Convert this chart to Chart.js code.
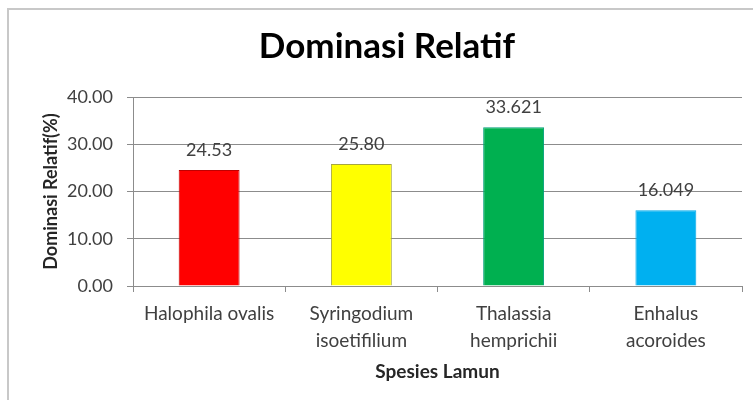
<!DOCTYPE html>
<html>
<head>
<meta charset="utf-8">
<script src="https://cdn.jsdelivr.net/npm/chart.js@4/dist/chart.umd.min.js"></script>
<style>
  html, body { margin: 0; padding: 0; background: #ffffff; }
  #wrap { position: relative; width: 753px; height: 401px; }
</style>
</head>
<body>
<div id="wrap"><canvas id="c" width="753" height="401"></canvas></div>
<script>
const categories = [["Halophila ovalis"], ["Syringodium", "isoetifilium"], ["Thalassia", "hemprichii"], ["Enhalus", "acoroides"]];
const values = [24.53, 25.80, 33.621, 16.049];
const valueLabels = ["24.53", "25.80", "33.621", "16.049"];
const barColors = ["#FF0000", "#FFFF00", "#00B050", "#00B0F0"];
const barBorders = ["#C00000", "#A6A640", "#00A07A", "#00A8E8"];
const yTicks = [0, 10, 20, 30, 40];

const FONT = "Lato, 'Open Sans', 'Liberation Sans', sans-serif";

const frame = {
  id: 'frame',
  beforeDraw(chart) {
    const ctx = chart.ctx;
    ctx.save();
    ctx.fillStyle = '#ffffff';
    ctx.fillRect(0, 0, chart.width, chart.height);
    ctx.strokeStyle = '#C8C8C8';
    ctx.lineWidth = 2;
    ctx.beginPath();
    ctx.moveTo(8, 400);
    ctx.lineTo(8, 9);
    ctx.lineTo(760, 9);
    ctx.stroke();
    ctx.restore();
  }
};

// The original chart frame extends past the right edge, so its title sits right of the canvas centre.
const titleShift = {
  id: 'titleShift',
  afterLayout(chart) {
    const t = chart.titleBlock;
    if (t) { t.left += 12; t.right += 12; }
  }
};

const valueLabelPlugin = {
  id: 'valueLabels',
  afterDatasetsDraw(chart) {
    const ctx = chart.ctx;
    const meta = chart.getDatasetMeta(0);
    ctx.save();
    ctx.font = "18px " + FONT;
    ctx.fillStyle = '#404040';
    ctx.textAlign = 'center';
    ctx.textBaseline = 'middle';
    meta.data.forEach((bar, i) => {
      ctx.fillText(valueLabels[i], bar.x, bar.y - 20);
    });
    ctx.restore();
  }
};

new Chart(document.getElementById('c'), {
  type: 'bar',
  data: {
    labels: categories,
    datasets: [{
      data: values,
      backgroundColor: barColors,
      borderColor: barBorders,
      borderWidth: 1,
      categoryPercentage: 1.0,
      barPercentage: 0.4
    }]
  },
  options: {
    responsive: false,
    animation: false,
    devicePixelRatio: 1,
    layout: { padding: { left: 8, right: 11, top: 0, bottom: 8 } },
    plugins: {
      legend: { display: false },
      tooltip: { enabled: false },
      title: {
        display: true,
        text: 'Dominasi Relatif',
        color: '#000000',
        font: { family: FONT, size: 35, weight: 'bold' },
        padding: { top: 26, bottom: 29 }
      }
    },
    scales: {
      x: {
        grid: { display: true, drawOnChartArea: false, drawTicks: true, tickLength: 6, color: '#8C8C8C', offset: true },
        border: { display: true, color: '#8C8C8C', width: 1 },
        ticks: {
          color: '#404040',
          font: { family: FONT, size: 19, lineHeight: 1.42 },
          padding: 8,
          maxRotation: 0,
          autoSkip: false
        },
        title: {
          display: true,
          text: 'Spesies Lamun',
          color: '#262626',
          font: { family: FONT, size: 19, weight: 'bold' },
          padding: { top: 4, bottom: 10 }
        },
        afterFit(scale) { scale.height = 107; }
      },
      y: {
        min: 0,
        max: 40,
        afterBuildTicks(scale) { scale.ticks = yTicks.map(v => ({ value: v })); },
        grid: { color: '#8C8C8C', tickLength: 6, drawTicks: true },
        border: { display: true, color: '#8C8C8C', width: 1 },
        ticks: {
          color: '#404040',
          font: { family: FONT, size: 18 },
          padding: 14,
          callback: v => Number(v).toFixed(2)
        },
        title: {
          display: true,
          text: 'Dominasi Relatif(%)',
          color: '#262626',
          font: { family: FONT, size: 18, weight: 'bold' },
          padding: { top: 32, bottom: 0 }
        },
        afterFit(scale) { scale.width = 125; }
      }
    }
  },
  plugins: [frame, titleShift, valueLabelPlugin]
});
</script>
</body>
</html>
